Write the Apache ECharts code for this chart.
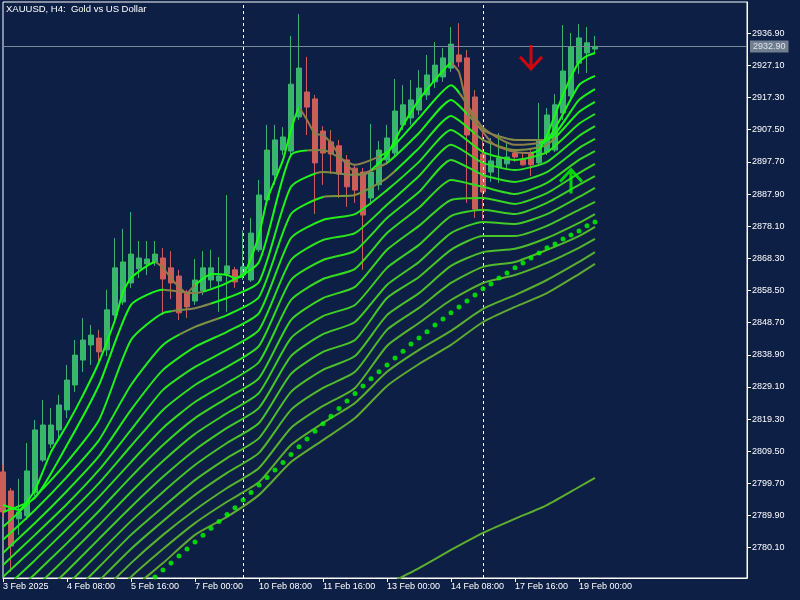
<!DOCTYPE html>
<html><head><meta charset="utf-8">
<script src="https://cdn.jsdelivr.net/npm/echarts@6/dist/echarts.min.js"></script>
<style>html,body{margin:0;padding:0;background:#0d1f45;}#c{width:800px;height:600px;}</style>
</head><body><div id="c"></div>
<script>
// ---------- DATA ----------
const chartTitle = 'XAUUSD, H4:  Gold vs US Dollar';
const xTickLabels = ['3 Feb 2025','4 Feb 08:00','5 Feb 16:00','7 Feb 00:00','10 Feb 08:00','11 Feb 16:00','13 Feb 00:00','14 Feb 08:00','17 Feb 16:00','19 Feb 00:00'];
const yTickLabels = [2780.1,2789.9,2799.7,2809.5,2819.3,2829.1,2838.9,2848.7,2858.5,2868.3,2878.1,2887.9,2897.7,2907.5,2917.3,2927.1,2936.9];
// H4 candles: [open, close, low, high]
const candles = [
[2803.2,2791.0,2789.2,2805.3],[2797.4,2780.6,2772.7,2798.3],[2788.9,2791.0,2784.0,2801.1],[2789.8,2803.5,2788.6,2812.0],
[2796.8,2816.0,2795.9,2819.0],[2806.8,2817.5,2806.2,2825.1],[2811.7,2817.5,2810.5,2822.7],[2816.0,2823.6,2812.9,2826.7],
[2822.1,2831.2,2819.6,2835.8],[2829.7,2838.8,2827.6,2843.4],[2837.3,2843.4,2833.7,2850.1],[2841.9,2844.9,2835.8,2848.0],
[2844.0,2839.8,2836.7,2846.5],[2840.4,2852.6,2838.5,2858.7],[2851.0,2865.4,2848.9,2874.5],[2855.0,2867.2,2854.1,2877.3],
[2860.8,2869.6,2859.3,2882.4],[2865.1,2868.4,2862.3,2873.6],[2866.6,2868.1,2863.2,2873.6],[2867.2,2869.6,2866.0,2873.6],
[2868.4,2862.0,2851.0,2871.5],[2865.4,2860.8,2855.9,2870.5],[2862.9,2851.7,2849.5,2864.8],[2857.7,2853.5,2850.1,2858.7],
[2855.3,2861.7,2854.1,2868.1],[2858.4,2865.4,2857.1,2870.5],[2861.7,2865.4,2859.3,2870.9],[2861.4,2862.9,2852.0,2868.7],
[2863.5,2866.0,2852.0,2887.6],[2864.8,2861.1,2859.3,2865.7],[2863.2,2865.7,2861.7,2876.9],[2861.7,2876.0,2861.1,2880.6],
[2870.9,2887.6,2870.2,2892.2],[2886.1,2901.3,2884.6,2909.0],[2893.7,2904.4,2890.7,2909.0],[2901.3,2905.3,2899.8,2908.3],
[2901.0,2921.4,2899.8,2936.1],[2911.4,2926.3,2910.5,2942.8],[2919.0,2914.4,2905.9,2929.7],[2916.9,2897.4,2881.8,2918.1],
[2907.1,2900.4,2890.7,2908.6],[2903.8,2900.1,2894.0,2907.4],[2902.6,2894.0,2886.7,2904.4],[2898.3,2890.1,2884.0,2899.8],
[2895.8,2889.1,2885.2,2896.8],[2894.6,2881.5,2864.8,2895.8],[2886.7,2894.6,2884.6,2909.3],[2890.7,2901.3,2889.1,2904.1],
[2898.3,2905.0,2896.8,2909.0],[2900.4,2913.2,2899.5,2923.0],[2909.0,2915.1,2907.4,2921.1],[2911.1,2916.6,2909.0,2922.7],
[2913.5,2920.2,2912.0,2925.7],[2918.1,2924.2,2916.6,2930.3],[2922.1,2927.2,2920.2,2934.2],[2923.6,2929.4,2922.1,2932.4],
[2926.3,2933.6,2925.1,2938.8],[2930.3,2928.2,2926.6,2940.0],[2929.4,2905.9,2885.2,2931.8],[2917.5,2883.3,2880.6,2919.6],
[2900.1,2888.5,2880.0,2906.5],[2894.6,2898.0,2891.6,2905.0],[2896.1,2898.9,2891.3,2906.5],[2897.1,2899.2,2895.2,2903.5],
[2900.4,2899.2,2897.7,2901.3],[2898.6,2896.8,2896.5,2900.7],[2900.4,2896.8,2893.4,2901.3],[2897.4,2904.4,2896.5,2915.7],
[2900.7,2912.0,2899.8,2914.1],[2901.3,2915.1,2900.7,2918.4],[2912.6,2925.4,2910.5,2939.4],[2917.8,2932.7,2916.6,2937.0],
[2927.8,2935.5,2924.5,2939.7],[2930.9,2934.0,2924.8,2938.8],[2932.1,2932.9,2930.9,2936.1]
];
// fastest average, read at these bar indices
const ma1Index = [0,2,4,6,8,10,12,14,15,16,18,19,20,21,22,23,24,26,28,29,30,31,32,33,34,35,36,37,38,39,40,41,42,43,44,45,46,47,48,49,50,52,54,56,57,58,59,60,61,62,64,66,67,68,69,70,71,72,73,74];
const ma1 = [2793.1,2791.6,2797.7,2809.3,2817.5,2826.6,2836.7,2849.5,2858.1,2862.3,2866.0,2867.2,2865.4,2862.3,2859.6,2857.7,2860.2,2863.5,2863.2,2862.3,
2862.9,2868.4,2875.4,2886.1,2892.2,2898.3,2907.4,2914.1,2910.5,2906.2,2905.9,2903.5,2899.8,2896.8,2894.6,2893.4,2895.2,2897.4,2899.8,2904.4,
2908.9,2916.6,2922.7,2927.8,2925.1,2915.0,2909.9,2906.8,2903.8,2902.2,2900.7,2900.4,2901.3,2905.9,2912.0,2918.1,2923.6,2928.2,2930.0,2930.9];
// slower averages of the ribbon, read at these bar indices
const maIndex = [0,4,8,12,16,20,24,28,32,36,40,44,48,52,56,60,64,68,72,74];
const ma2  = [2791.0,2795.3,2811.4,2829.7,2854.1,2858.7,2857.7,2860.8,2867.2,2899.8,2901.3,2896.8,2900.7,2911.1,2921.1,2908.1,2902.9,2904.4,2921.1,2923.9];
const ma3  = [2786.4,2795.6,2806.2,2819.0,2843.4,2851.6,2853.1,2856.2,2861.1,2890.1,2894.6,2893.7,2897.4,2906.5,2916.6,2907.4,2904.4,2904.4,2916.6,2919.9];
const ma4  = [2782.5,2791.6,2801.7,2812.9,2829.7,2841.9,2847.4,2851.0,2856.5,2881.8,2887.0,2887.6,2892.8,2901.9,2911.7,2904.4,2901.3,2902.9,2912.9,2916.0];
const ma5  = [2778.5,2787.6,2797.4,2808.0,2822.1,2834.3,2841.3,2845.9,2851.6,2874.5,2880.0,2881.8,2889.1,2897.7,2907.4,2900.7,2898.3,2900.7,2909.3,2912.3];
const ma6  = [2774.8,2784.0,2793.4,2803.8,2816.0,2828.2,2835.2,2840.4,2846.5,2867.8,2873.9,2876.0,2884.6,2893.4,2902.9,2897.4,2895.2,2897.7,2905.6,2908.6];
const ma7  = [2771.2,2780.3,2789.8,2799.8,2811.1,2822.1,2829.7,2835.2,2841.6,2861.7,2867.8,2870.6,2880.6,2888.5,2898.3,2893.7,2891.6,2894.6,2901.9,2904.7];
const ma8  = [2767.2,2776.3,2785.8,2795.6,2806.2,2816.6,2824.5,2830.3,2836.7,2855.6,2862.0,2865.1,2876.0,2883.7,2892.2,2890.1,2887.9,2891.3,2898.3,2901.0];
const ma9  = [2763.0,2772.1,2781.5,2791.3,2801.7,2811.4,2819.6,2825.7,2831.8,2849.5,2856.2,2859.6,2870.9,2878.2,2886.1,2886.7,2884.9,2888.2,2894.3,2897.1];
const ma10 = [2758.7,2767.8,2777.3,2787.0,2797.1,2806.5,2814.8,2821.1,2827.3,2844.0,2850.7,2854.1,2865.4,2872.4,2881.2,2883.1,2881.8,2885.2,2890.7,2893.4];
const ma11 = [2754.4,2763.6,2773.0,2782.8,2792.5,2801.7,2809.9,2816.6,2822.7,2838.5,2845.2,2848.9,2860.2,2867.2,2876.0,2879.4,2878.8,2881.8,2887.0,2889.8];
const ma12 = [2750.1,2759.3,2768.7,2778.5,2788.2,2797.1,2805.3,2812.0,2818.1,2833.1,2839.8,2843.4,2856.2,2862.6,2870.9,2875.1,2875.1,2878.2,2883.1,2885.5];
const ma13 = [2745.9,2755.0,2764.5,2774.2,2784.0,2792.5,2800.7,2807.4,2813.5,2827.6,2834.3,2838.5,2851.0,2857.7,2866.0,2870.2,2871.2,2874.5,2879.1,2881.8];
const ma14 = [2741.6,2750.8,2760.2,2770.0,2779.7,2788.2,2796.2,2802.9,2809.0,2822.1,2828.8,2833.7,2846.5,2853.2,2860.8,2865.7,2867.2,2870.9,2875.1,2877.9];
const ma15 = [2737.3,2746.5,2755.9,2765.7,2775.4,2784.0,2791.6,2798.3,2804.4,2816.6,2823.3,2828.8,2841.6,2848.6,2855.6,2860.8,2863.2,2866.9,2871.5,2874.2];
const ma16 = [2733.1,2742.2,2751.6,2761.4,2771.2,2779.7,2787.6,2794.1,2800.1,2811.4,2818.1,2824.2,2833.7,2840.4,2846.2,2852.9,2857.1,2861.7,2867.2,2870.2];
const ma17 = [2728.8,2738.0,2747.4,2757.2,2767.2,2775.4,2784.0,2789.5,2796.2,2806.2,2812.9,2819.6,2829.4,2836.1,2841.9,2848.9,2853.5,2857.7,2863.5,2866.6];
// dotted average: one value per bar starting at bar 19
const dotStart = 19;
const dotMA = [2771.2,2773.3,2775.4,2777.6,2779.7,2781.8,2783.9,2786.0,2788.1,2790.2,2792.3,2794.6,2796.9,2799.2,2801.5,2803.8,
2806.1,2808.5,2810.9,2813.2,2815.6,2817.9,2820.2,2822.5,2824.8,2827.1,2829.4,2831.6,2833.7,2835.8,2837.9,2840.0,2842.2,2844.0,
2845.9,2848.0,2849.8,2851.7,2853.5,2855.3,2857.1,2859.0,2860.5,2862.3,2863.8,2865.4,2866.9,2868.4,2869.9,2871.5,2872.7,2874.2,
2875.4,2876.6,2878.2,2879.4];
// slowest average
const slowIndex = [40,44,48,52,56,60,64,68,72,74];
const slowMA = [2755.0,2762.6,2768.7,2773.9,2779.4,2784.6,2788.9,2793.1,2798.6,2801.4];
const lastPrice = 2932.9;
const separators = [30, 60];
const sellSignal = [66, 2929.4];
const buySignal = [71, 2892.0];
// bar ranges where the fast averages turn down (drawn in the falling colour)
const fallingRanges = [[19,24],[37,46],[56,66]];

// ---------- CHART ----------
const NSLOTS = 94;
const cats = Array.from({length: NSLOTS}, (_, i) => String(i));
const ribbon = [ma2,ma3,ma4,ma5,ma6,ma7,ma8,ma9,ma10,ma11,ma12,ma13,ma14,ma15,ma16,ma17];
const c0 = [20,255,20], c1 = [95,170,48];
function ramp(t){ return 'rgb(' + c0.map((v,k)=>Math.round(v+(c1[k]-v)*t)).join(',') + ')'; }
const fallColors = ['#947a4c','#8c8048','#86884a','#7f9242'];
const showTick = (i) => i % 8 === 0 && (i/8) < xTickLabels.length;
const font = 'Liberation Sans, Arial, sans-serif';
const NFAST = 4;

const series = [];
series.push({
  type:'candlestick', data: candles, barWidth: 5, z: 3,
  itemStyle:{color:'#3cb371', color0:'#cd5c5c', borderColor:'#3cb371', borderColor0:'#cd5c5c', borderWidth:1},
  markLine:{symbol:'none', silent:true, animation:false,
    data:[{yAxis:lastPrice}],
    lineStyle:{color:'#7a8a9a', width:1, type:'solid'},
    label:{show:true, position:'end', distance:3, formatter: lastPrice.toFixed(2),
      backgroundColor:'#6f7f8f', color:'#dde3ea', padding:[2,3,1,3], fontSize:9, fontFamily:font}}
});
series.push({
  type:'line', data: [], z: 1,
  markLine:{symbol:'none', silent:true, animation:false,
    data: separators.map(s=>({xAxis:s})),
    lineStyle:{color:'#ffffff', width:1, type:[3,3]}, label:{show:false}}
});
const fastSeriesIdx = [];
const allLines = [{ix: ma1Index, v: ma1}].concat(ribbon.map(a => ({ix: maIndex, v: a})));
allLines.forEach((ln, k) => {
  const s = {type:'line', data: ln.ix.map((ix,j)=>[ix, ln.v[j]]), showSymbol:false, z: 5 + (17-k)*0.01,
    smooth: k === 0 ? 0.15 : 0.2, lineStyle:{width:2}};
  if (k < NFAST) { fastSeriesIdx.push(series.length); }
  else { s.lineStyle.color = ramp(k/16); s.itemStyle = {color: ramp(k/16)}; }
  series.push(s);
});
series.push({type:'scatter', data: dotMA.map((v,j)=>[dotStart+j, v]), symbolSize:5, z:6,
  itemStyle:{color:'#00ff00'}});
series.push({type:'line', data: slowIndex.map((ix,j)=>[ix, slowMA[j]]), showSymbol:false, z:5,
  smooth:0.2, lineStyle:{width:2, color:'rgb(95,175,45)'}});
series.push({type:'scatter', data:[sellSignal], z:7, symbolSize:[24,26], symbolKeepAspect:false,
  symbol:'path://M10.5,0 L13.5,0 L13.5,22 L10.5,22 Z M0.5,12 L2.5,10 L12,20 L21.5,10 L23.5,12 L12,24 Z',
  itemStyle:{color:'#ff0000'}});
series.push({type:'scatter', data:[buySignal], z:7, symbolSize:[24,26], symbolKeepAspect:false,
  symbol:'path://M10.5,26 L13.5,26 L13.5,4 L10.5,4 Z M0.5,14 L2.5,16 L12,6 L21.5,16 L23.5,14 L12,2 Z',
  itemStyle:{color:'#00ff00'}});

// visual maps: colour the fast averages olive/brown where they fall
const visualMaps = fastSeriesIdx.map((si, k) => {
  const pieces = [];
  let prev = -10;
  fallingRanges.forEach(([a,b]) => {
    pieces.push({gte: prev, lt: a + k, color: ramp(k/16)});
    pieces.push({gte: a + k, lt: b + k, color: fallColors[k]});
    prev = b + k;
  });
  pieces.push({gte: prev, lte: 200, color: ramp(k/16)});
  return {type:'piecewise', show:false, dimension:0, seriesIndex: si, pieces: pieces};
});

const chart = echarts.init(document.getElementById('c'), null, {renderer:'canvas'});
chart.setOption({
  backgroundColor:'#0d1f45',
  animation:false,
  grid:{left:2, top:2, right:53, bottom:22, show:true, borderColor:'#ffffff', borderWidth:1},
  graphic:[{type:'text', left:6, top:4, style:{text:chartTitle, fill:'#ffffff', font:'9.5px '+font}}],
  visualMap: visualMaps,
  xAxis:{type:'category', data:cats, boundaryGap:false,
    axisLine:{show:true, lineStyle:{color:'#ffffff'}},
    axisTick:{show:true, interval:(i)=>showTick(i), length:4, lineStyle:{color:'#ffffff'}},
    axisLabel:{interval:(i)=>showTick(i), formatter:(v,i)=> (i%8===0 && xTickLabels[i/8]) ? xTickLabels[i/8] : '',
      align:'left', color:'#ffffff', fontSize:9, fontFamily:font, margin:4},
    splitLine:{show:false}},
  yAxis:{type:'value', position:'right', min:2770.86, max:2946.44,
    axisLine:{show:true, lineStyle:{color:'#ffffff'}},
    axisTick:{show:true, length:4, lineStyle:{color:'#ffffff'}, customValues: yTickLabels},
    axisLabel:{customValues: yTickLabels, formatter:(v)=>Number(v).toFixed(2), color:'#ffffff', fontSize:9, fontFamily:font, margin:5},
    splitLine:{show:false}},
  series: series
});
</script>
</body></html>
